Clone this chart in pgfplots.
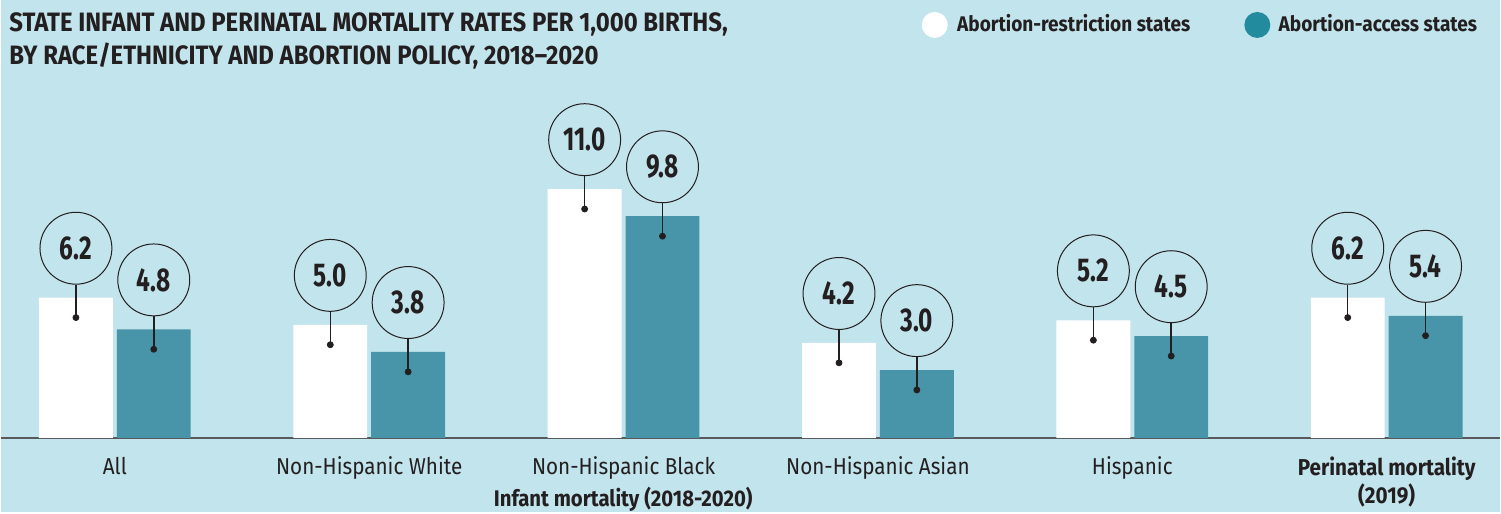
\documentclass[border=0pt]{standalone}
\usepackage{pgfplots}
\pgfplotsset{compat=1.18}
\usepackage{pgfplotstable}
\usepackage{fontspec}
\setmainfont{Fira Sans}[FakeStretch=0.9]
\newfontfamily\numfont{Fira Sans}[FakeStretch=0.74]

\definecolor{bg}{HTML}{C2E4EC}
\definecolor{tealbar}{HTML}{4895A9}
\definecolor{tealkey}{HTML}{228B9E}
\definecolor{ink}{HTML}{231F20}
\definecolor{baseline}{HTML}{58595B}

% x = category index, w = restriction states, t = access states
\pgfplotstableread{
x  w    t
0  6.2  4.8
1  5.0  3.8
2  11.0 9.8
3  4.2  3.0
4  5.2  4.5
5  6.2  5.4
}\rates

% helper: position given in pixels of the 1501x513 reference
\newcommand{\px}[2]{(rel axis cs:{#1/1501},{1-#2/513})}

\pgfplotsset{
    bubble/.style={only marks, mark=none,
        nodes near coords={\pgfmathprintnumber[fixed,fixed zerofill,precision=1]{\pgfplotspointmeta}},
        every node near coord/.style={
            circle, draw=ink, line width=0.5pt, minimum size=36pt, inner sep=0pt,
            anchor=south, yshift=6.5pt, text=ink,
            font=\numfont\bfseries\fontsize{16.5}{16.5}\selectfont}},
    leader/.style={only marks, mark=*, mark size=1.5pt, color=ink,
        error bars/.cd, y dir=plus, y explicit, error mark=none,
        error bar style={line width=0.75pt, color=ink}},
}

\begin{document}
\begin{tikzpicture}
\begin{axis}[
    width=750.5pt, height=256.5pt,
    scale only axis,
    xmin=-0.4476, xmax=5.4457,
    ymin=-3.289, ymax=19.36,
    axis x line=middle,
    axis y line=none,
    x axis line style={-, draw=baseline, line width=1pt},
    axis background/.style={fill=bg, draw=none},
    xtick={0,1,2,3,4,5},
    xticklabels={All, Non-Hispanic White, Non-Hispanic Black, Non-Hispanic Asian, Hispanic, {\bfseries Perinatal mortality\\\bfseries(2019)}},
    xticklabel style={font=\fontsize{11.5}{14}\selectfont, align=center, anchor=north, yshift=-6pt, text=ink},
    major tick length=0pt,
    ytick=\empty,
    clip=false,
    /pgf/number format/assume math mode=true,
]
\addplot[ybar, bar width=0.2905, bar shift=-0.153, fill=white, draw=none] table[x=x, y=w] {\rates};
\addplot[ybar, bar width=0.2905, bar shift=0.153, fill=tealbar, draw=none] table[x=x, y=t] {\rates};

% value bubbles
\addplot[bubble] table[x expr=\thisrow{x}-0.153, y=w] {\rates};
\addplot[bubble] table[x expr=\thisrow{x}+0.153, y=t] {\rates};

% leader lines and dots
\addplot[leader] table[x expr=\thisrow{x}-0.153, y expr=\thisrow{w}-0.88, y error expr=1.457] {\rates};
\addplot[leader] table[x expr=\thisrow{x}+0.153, y expr=\thisrow{t}-0.88, y error expr=1.457] {\rates};

% title
\node[anchor=base west, inner sep=0, text=ink, font=\bfseries\fontsize{13.3}{16}\selectfont] at \px{8}{32}
    {STATE INFANT AND PERINATAL MORTALITY RATES PER 1,000 BIRTHS,};
\node[anchor=base west, inner sep=0, text=ink, font=\bfseries\fontsize{13.3}{16}\selectfont] at \px{8}{65}
    {BY RACE/ETHNICITY AND ABORTION POLICY, 2018--2020};

% legend
\fill[white] \px{935}{25} circle[radius=6.5pt];
\node[anchor=base west, inner sep=0, text=ink, font=\bfseries\fontsize{10.6}{12}\selectfont] at \px{957}{32}
    {Abortion-restriction states};
\fill[tealkey] \px{1258}{25} circle[radius=6.5pt];
\node[anchor=base west, inner sep=0, text=ink, font=\bfseries\fontsize{10.6}{12}\selectfont] at \px{1279}{32}
    {Abortion-access states};

% group label
\node[anchor=base, inner sep=0, text=ink, font=\bfseries\fontsize{11.3}{14}\selectfont] at \px{623}{507}
    {Infant mortality (2018-2020)};
\end{axis}
\end{tikzpicture}
\end{document}
